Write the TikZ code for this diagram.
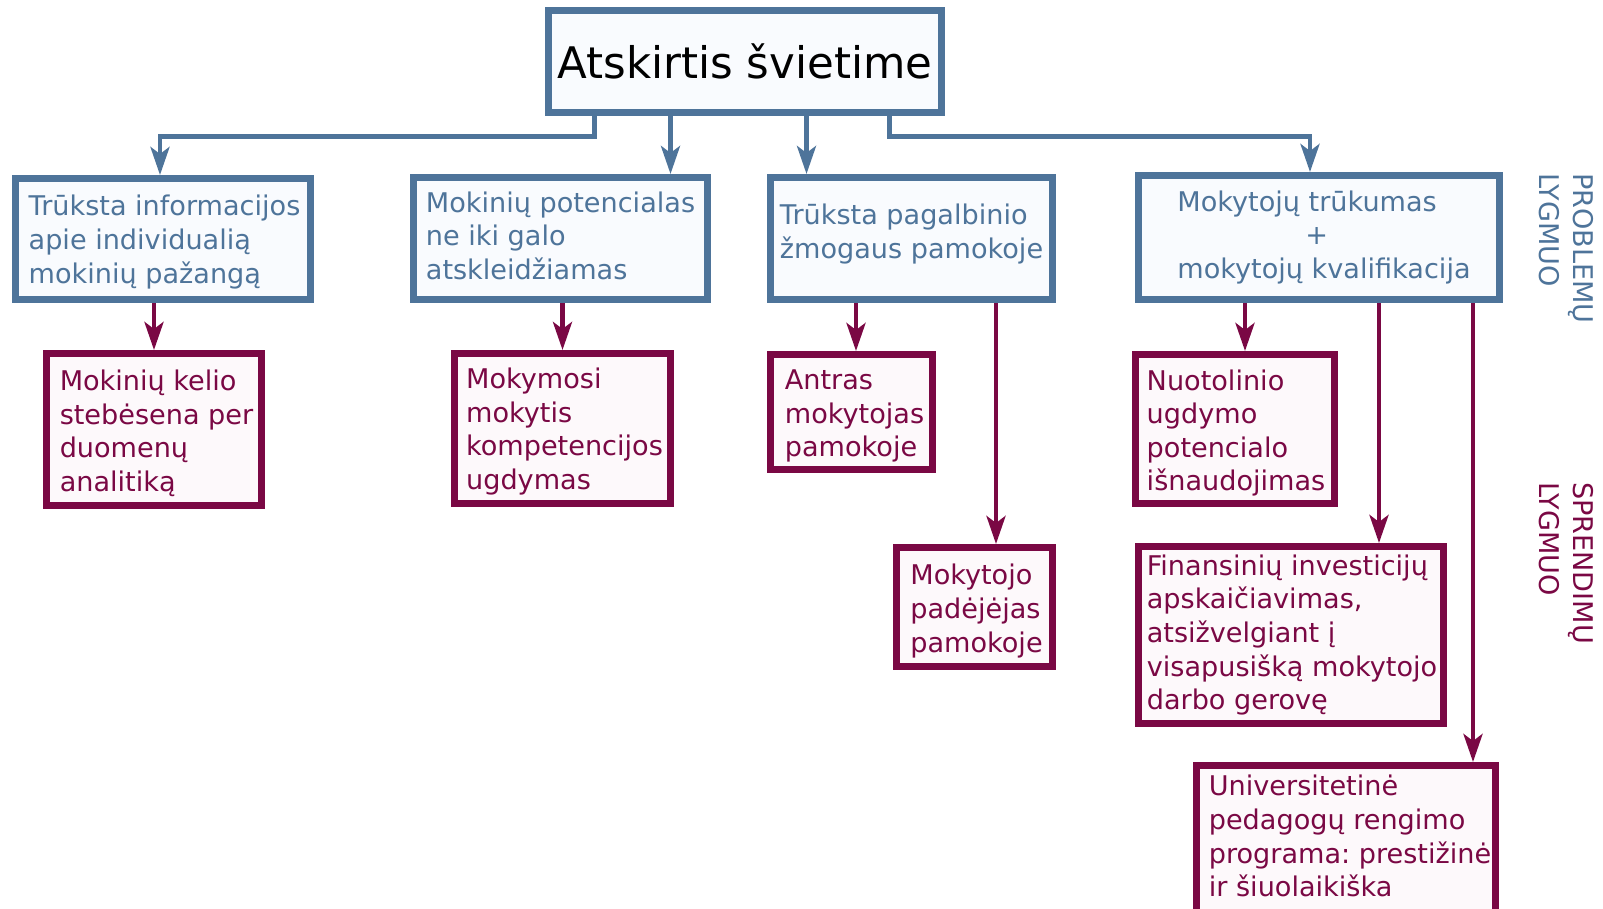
\documentclass[tikz,border=0pt]{standalone}
\usepackage{fontspec}
\setmainfont{DejaVu Sans}
\frenchspacing
\usetikzlibrary{arrows.meta}

\definecolor{probblue}{HTML}{4E749A}
\definecolor{probfill}{HTML}{F9FBFE}
\definecolor{solpurple}{HTML}{7A0844}
\definecolor{solfill}{HTML}{FDF9FB}

\begin{document}
\begin{tikzpicture}[x=1pt, y=-1pt]
    \tikzstyle{topic} = [rectangle, draw=probblue, fill=probfill, line width=7pt, minimum width=393pt, minimum height=102pt, text centered, font=\fontsize{43.5}{50}\selectfont]
    \tikzstyle{problem} = [rectangle, draw=probblue, fill=probfill, line width=7pt, align=left, inner sep=2pt, text=probblue, font=\fontsize{27.1}{33.6}\selectfont]
    \tikzstyle{solution} = [rectangle, draw=solpurple, fill=solfill, line width=7pt, align=left, inner sep=2pt, text=solpurple, font=\fontsize{27.1}{33.6}\selectfont]
    \tikzstyle{level} = [rotate=-90, anchor=north west, align=left, inner sep=0pt, font=\fontsize{27.1}{34.5}\selectfont]
    \tikzstyle{arrowblue} = [draw=probblue, line width=4.5pt, -{Stealth[length=28pt, width=19pt, inset=7pt]}]
    \tikzstyle{arrowpurple} = [draw=solpurple, line width=4.5pt, -{Stealth[length=28pt, width=19pt, inset=7pt]}]

    \useasboundingbox (0,0) rectangle (1603,909);

    \node (topic) [topic] at (745,61.5) {Atskirtis švietime};

    \node (prob1) [problem, execute at begin node={\hspace*{3pt}\rule{0pt}{94pt}}, minimum width=295pt, minimum height=121pt] at (163,239) {Trūksta informacijos\\apie individualią\\mokinių pažangą};
    \node (prob2) [problem, execute at end node={\rule[-6pt]{0pt}{0pt}}, minimum width=294pt, minimum height=122pt] at (560.5,238.5) {Mokinių potencialas\\ne iki galo\\atskleidžiamas};
    \node (prob3) [problem, execute at end node={\rule[-15pt]{0pt}{0pt}}, minimum width=282pt, minimum height=122pt] at (911.5,238.5) {Trūksta pagalbinio\\žmogaus pamokoje};
    \node (prob4) [problem, execute at begin node={\hspace*{10pt}}, minimum width=361pt, minimum height=124pt] at (1319,237.5) {Mokytojų trūkumas\\\hspace*{128pt}+\\mokytojų kvalifikacija};

    \node (sol1) [solution, execute at begin node={\hspace*{5pt}\rule{0pt}{129.4pt}}, minimum width=215pt, minimum height=152pt] at (154,429.5) {Mokinių kelio\\stebėsena per\\duomenų\\analitiką};
    \node (sol2) [solution, execute at begin node={\hspace*{4pt}\rule{0pt}{127.4pt}}, minimum width=216pt, minimum height=150pt] at (562.5,428.5) {Mokymosi\\mokytis\\kompetencijos\\ugdymas};
    \node (sol3) [solution, execute at begin node={\hspace*{6pt}\rule{0pt}{95pt}}, minimum width=162pt, minimum height=115pt] at (851.5,412) {Antras\\mokytojas\\pamokoje};
    \node (sol4) [solution, execute at begin node={\hspace*{4pt}\rule{0pt}{95.8pt}}, minimum width=156pt, minimum height=119pt] at (974.5,607) {Mokytojo\\padėjėjas\\pamokoje};
    \node (sol5) [solution, execute at begin node={\hspace*{2pt}\rule{0pt}{129.4pt}}, minimum width=199pt, minimum height=149pt] at (1235,429) {Nuotolinio\\ugdymo\\potencialo\\išnaudojimas};
    \node (sol6) [solution, execute at begin node={\hspace*{2pt}}, minimum width=305pt, minimum height=177pt] at (1291,635) {Finansinių investicijų\\apskaičiavimas,\\atsižvelgiant į\\visapusišką mokytojo\\darbo gerovę};
    \node (sol7) [solution, execute at begin node={\hspace*{8pt}}, execute at end node={\rule[-19pt]{0pt}{0pt}}, minimum width=299pt, minimum height=160pt] at (1346,845.5) {Universitetinė\\pedagogų rengimo\\programa: prestižinė\\ir šiuolaikiška};

    \node (lvlprob) [level, text=probblue] at (1594,173) {PROBLEMŲ\\LYGMUO};
    \node (lvlsol) [level, text=solpurple] at (1594,482) {SPRENDIMŲ\\LYGMUO};

    \coordinate (t2) at ([xshift=125.5pt]topic.south west);
    \coordinate (t3) at ([xshift=261.5pt]topic.south west);
    \coordinate (a3) at ([xshift=4.5pt]sol3.north);
    \coordinate (a4) at ([xshift=21.5pt]sol4.north);
    \coordinate (a5) at ([xshift=10pt]sol5.north);
    \coordinate (a6) at ([xshift=88pt]sol6.north);
    \coordinate (a7) at ([xshift=127pt]sol7.north);

    \draw [arrowblue] ([xshift=49.5pt]topic.south west) -- ++(0,20.5) -| ([xshift=-3pt]prob1.north);
    \draw [arrowblue] (t2) -- (t2 |- prob2.north);
    \draw [arrowblue] (t3) -- (t3 |- prob3.north);
    \draw [arrowblue] ([xshift=344.5pt]topic.south west) -- ++(0,20.5) -| ([xshift=-9pt]prob4.north);

    \draw [arrowpurple] (sol1.north |- prob1.south) -- (sol1.north);
    \draw [arrowpurple] (sol2.north |- prob2.south) -- (sol2.north);
    \draw [arrowpurple] (a3 |- prob3.south) -- (a3);
    \draw [arrowpurple] (a4 |- prob3.south) -- (a4);
    \draw [arrowpurple] (a5 |- prob4.south) -- (a5);
    \draw [arrowpurple] (a6 |- prob4.south) -- (a6);
    \draw [arrowpurple] (a7 |- prob4.south) -- (a7);

\end{tikzpicture}
\end{document}
